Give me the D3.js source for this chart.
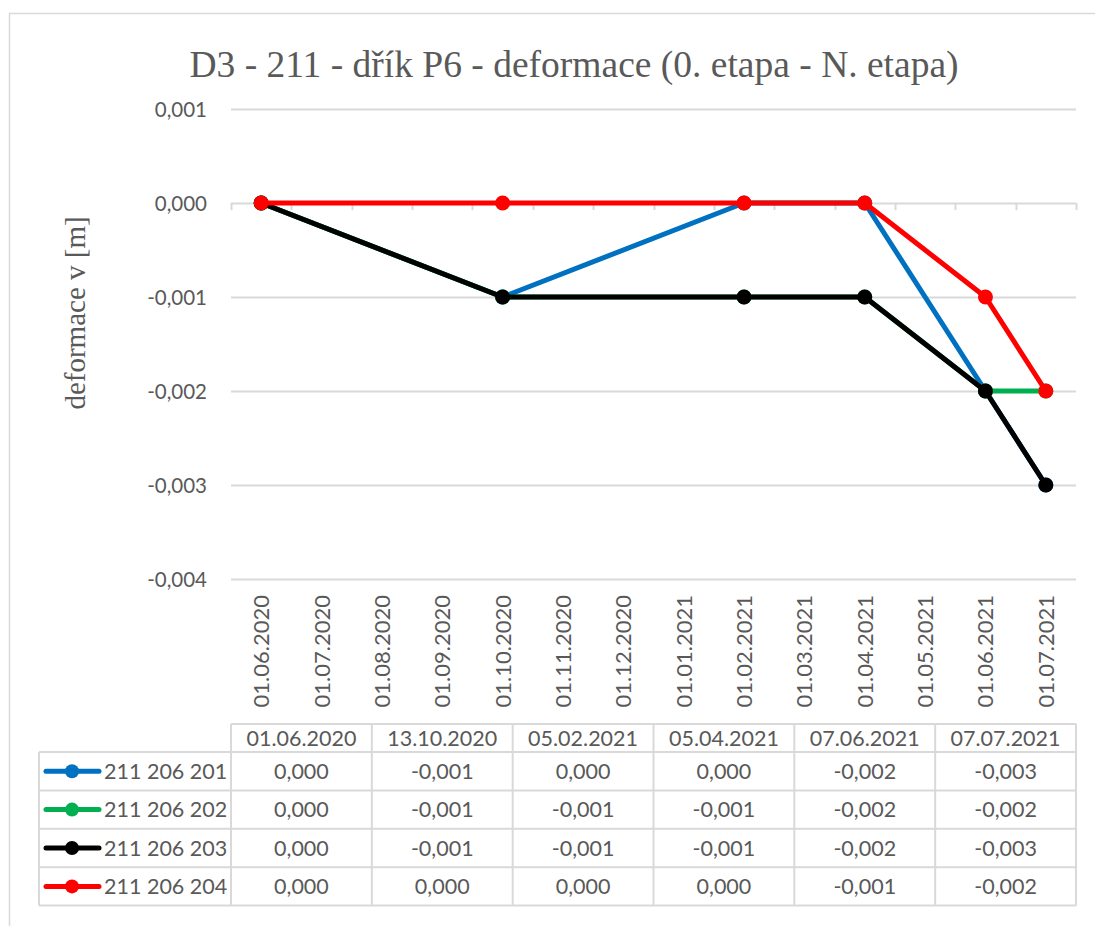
<!DOCTYPE html>
<html>
<head>
<meta charset="utf-8">
<script src="https://cdn.jsdelivr.net/npm/d3@7/dist/d3.min.js"></script>
<style>
  body { margin: 0; background: #fff; }
  svg { display: block; }
  text { fill: #595959; }
</style>
</head>
<body>
<div id="chart"></div>
<script>
// data
var dates = ["01.06.2020", "13.10.2020", "05.02.2021", "05.04.2021", "07.06.2021", "07.07.2021"];
var seriesNames = ["211 206 201", "211 206 202", "211 206 203", "211 206 204"];
var seriesColors = ["#0070C0", "#00B050", "#000000", "#FF0000"];
var s201 = [0, -0.001, 0, 0, -0.002, -0.003];
var s202 = [0, -0.001, -0.001, -0.001, -0.002, -0.002];
var s203 = [0, -0.001, -0.001, -0.001, -0.002, -0.003];
var s204 = [0, 0, 0, 0, -0.001, -0.002];
var seriesValues = [s201, s202, s203, s204];
var yTicks = [0.001, 0, -0.001, -0.002, -0.003, -0.004];
var axisStart = "01.06.2020", axisEnd = "01.07.2021";

var title = "D3 - 211 - dřík P6 - deformace (0. etapa - N. etapa)";
var yTitle = "deformace v [m]";

var W = 1095, H = 926;
var plot = {left: 231, right: 1076, top: 109, bottom: 579};
var font = "Lato, 'Open Sans', sans-serif";
var grid = "#d9d9d9";

var parse = d3.timeParse("%d.%m.%Y");
var fmtDate = d3.timeFormat("%d.%m.%Y");
var cz = d3.formatLocale({decimal: ",", thousands: " ", grouping: [3], currency: ["", " Kč"], minus: "-"});
var fmt = cz.format(".3f");

var months = d3.timeMonth.range(parse(axisStart), d3.timeMonth.offset(parse(axisEnd), 1));

var x = d3.scaleBand()
  .domain(months.map(function(m) { return +m; }))
  .range([plot.left, plot.right]);

var y = d3.scaleLinear()
  .domain([-0.004, 0.001])
  .range([plot.bottom, plot.top]);

function px(ds) {
  return x(+d3.timeMonth.floor(parse(ds))) + x.bandwidth() / 2;
}

var svg = d3.select("#chart").append("svg")
  .attr("width", W)
  .attr("height", H);

// frame
svg.append("rect")
  .attr("x", 9.5).attr("y", 13.5)
  .attr("width", 1200).attr("height", 1000)
  .attr("fill", "none").attr("stroke", grid).attr("stroke-width", 1.5);

// title
svg.append("text")
  .attr("x", 574).attr("y", 77)
  .attr("text-anchor", "middle")
  .style("font-family", "'Liberation Serif', 'Times New Roman', serif")
  .style("font-size", "37.5px")
  .text(title);

svg.append("text")
  .attr("transform", "translate(85,313) rotate(-90)")
  .attr("text-anchor", "middle")
  .style("font-family", "'Liberation Serif', 'Times New Roman', serif")
  .style("font-size", "29px")
  .text(yTitle);

// gridlines
svg.append("g").selectAll("line")
  .data(yTicks)
  .enter().append("line")
  .attr("x1", plot.left).attr("x2", plot.right)
  .attr("y1", function(d) { return Math.round(y(d)) + 0.5; })
  .attr("y2", function(d) { return Math.round(y(d)) + 0.5; })
  .attr("stroke", grid).attr("stroke-width", 2);

svg.append("g").selectAll("text")
  .data(yTicks)
  .enter().append("text")
  .attr("x", 207)
  .attr("y", function(d) { return y(d) + 7.5; })
  .attr("text-anchor", "end")
  .style("font-family", font)
  .style("font-size", "20.5px")
  .text(function(d) { return fmt(d); });

// x axis tick marks at band edges, on the zero line
var edges = months.map(function(m) { return x(+m); }).concat([plot.right]);
svg.append("g").selectAll("line")
  .data(edges)
  .enter().append("line")
  .attr("x1", function(d) { return Math.round(d) + 0.5; })
  .attr("x2", function(d) { return Math.round(d) + 0.5; })
  .attr("y1", y(0)).attr("y2", y(0) + 7)
  .attr("stroke", grid).attr("stroke-width", 2);

svg.append("g").selectAll("text")
  .data(months)
  .enter().append("text")
  .attr("transform", function(d) {
    return "translate(" + (x(+d) + x.bandwidth() / 2 + 8) + ",595) rotate(-90)";
  })
  .attr("text-anchor", "end")
  .style("font-family", font)
  .style("font-size", "22px")
  .text(function(d) { return fmtDate(d); });

// lines
var line = d3.line()
  .x(function(d, i) { return px(dates[i]); })
  .y(function(d) { return y(d); });

seriesValues.forEach(function(vals, k) {
  var g = svg.append("g");
  g.append("path")
    .datum(vals)
    .attr("d", line)
    .attr("fill", "none")
    .attr("stroke", seriesColors[k])
    .attr("stroke-width", 5)
    .attr("stroke-linejoin", "round");
  g.selectAll("circle")
    .data(vals)
    .enter().append("circle")
    .attr("cx", function(d, i) { return px(dates[i]); })
    .attr("cy", function(d) { return y(d); })
    .attr("r", 7.5)
    .attr("fill", seriesColors[k]);
});

// data table
var tTop = 724, headH = 28, rowH = 38.4, legLeft = 39;
var colW = (plot.right - plot.left) / dates.length;
var tbl = svg.append("g")
  .style("font-family", font)
  .style("font-size", "21.5px");

function hline(x1, x2, yy) {
  tbl.append("line").attr("x1", x1).attr("x2", x2).attr("y1", yy).attr("y2", yy)
    .attr("stroke", grid).attr("stroke-width", 2);
}
function vline(xx, y1, y2) {
  tbl.append("line").attr("x1", xx).attr("x2", xx).attr("y1", y1).attr("y2", y2)
    .attr("stroke", grid).attr("stroke-width", 2);
}

var tBottom = tTop + headH + rowH * seriesNames.length;
hline(plot.left, plot.right, tTop);
seriesNames.forEach(function(n, k) { hline(legLeft, plot.right, tTop + headH + rowH * k); });
hline(legLeft, plot.right, tBottom);
vline(legLeft, tTop + headH, tBottom);
for (var c = 0; c <= dates.length; c++) {
  vline(plot.left + colW * c, tTop, tBottom);
}

tbl.selectAll("text.head")
  .data(dates)
  .enter().append("text")
  .attr("class", "head")
  .attr("x", function(d, i) { return plot.left + colW * (i + 0.5); })
  .attr("y", tTop + headH / 2 + 7.5)
  .attr("text-anchor", "middle")
  .text(function(d) { return d; });

seriesNames.forEach(function(n, k) {
  var cy = tTop + headH + rowH * (k + 0.5);
  tbl.append("line")
    .attr("x1", 46).attr("x2", 99).attr("y1", cy).attr("y2", cy)
    .attr("stroke", seriesColors[k]).attr("stroke-width", 5)
    .attr("stroke-linecap", "round");
  tbl.append("circle")
    .attr("cx", 72).attr("cy", cy).attr("r", 7)
    .attr("fill", seriesColors[k]);
  tbl.append("text")
    .attr("x", 104).attr("y", cy + 7.5)
    .text(n);
  tbl.selectAll("text.v" + k)
    .data(seriesValues[k])
    .enter().append("text")
    .attr("class", "v" + k)
    .attr("x", function(d, i) { return plot.left + colW * (i + 0.5); })
    .attr("y", cy + 7.5)
    .attr("text-anchor", "middle")
    .text(function(d) { return fmt(d); });
});
</script>
</body>
</html>
